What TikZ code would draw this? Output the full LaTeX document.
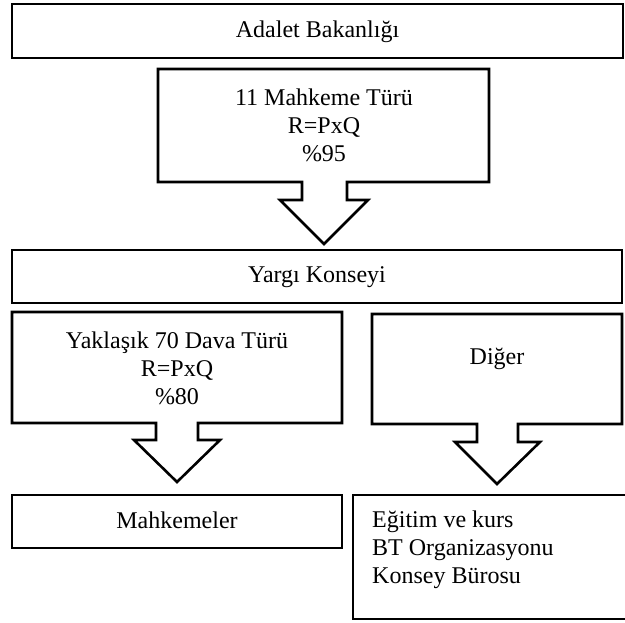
\documentclass[tikz,border=0pt]{standalone}
\usepackage{fontspec}
\setmainfont{Liberation Serif}
\begin{document}
\begin{tikzpicture}[x=1pt,y=-1pt,
  frame/.style={draw=black,line width=2.6pt,line join=miter,fill=white},
  lbl/.style={inner sep=0pt,anchor=base,align=center,font=\fontsize{24}{28}\selectfont},
  lbll/.style={inner sep=0pt,anchor=base west,align=left,font=\fontsize{24}{28}\selectfont}]
\useasboundingbox (0,0) rectangle (625,623);
% top box
\draw[frame] (12,4) rectangle (623,58);
\node[lbl] (adalet) at (317.5,38) {Adalet Bakanlığı};
% callout 1
\draw[frame] (158,69) -- (489,69) -- (489,182) -- (347,182) -- (347,200) -- (368,200)
  -- (324,244) -- (280,200) -- (302,200) -- (302,182) -- (158,182) -- cycle;
\node[lbl] (mah) at (324,162) {11 Mahkeme Türü\\R=PxQ\\\%95};
% Yargi box
\draw[frame] (12,250) rectangle (622,303);
\node[lbl] (yargi) at (317,283) {Yargı Konseyi};
% left callout
\draw[frame] (12,312) -- (342,312) -- (342,423) -- (198,423) -- (198,440) -- (220,440)
  -- (177,482) -- (134,440) -- (156,440) -- (156,423) -- (12,423) -- cycle;
\node[lbl] (dava) at (177,404) {Yaklaşık 70 Dava Türü\\R=PxQ\\\%80};
% right callout
\draw[frame] (372,314) -- (622,314) -- (622,424) -- (518,424) -- (518,442) -- (540,442)
  -- (497,484) -- (455,442) -- (477,442) -- (477,424) -- (372,424) -- cycle;
\node[lbl] (diger) at (497,365) {Diğer};
% Mahkemeler
\draw[frame] (12,495) rectangle (342,548);
\node[lbl] (mahk) at (177,528) {Mahkemeler};
% right bottom box
\draw[frame] (353,495) rectangle (630,619);
\node[lbll] (egitim) at (372,583) {Eğitim ve kurs\\BT Organizasyonu\\Konsey Bürosu};
\end{tikzpicture}
\end{document}
